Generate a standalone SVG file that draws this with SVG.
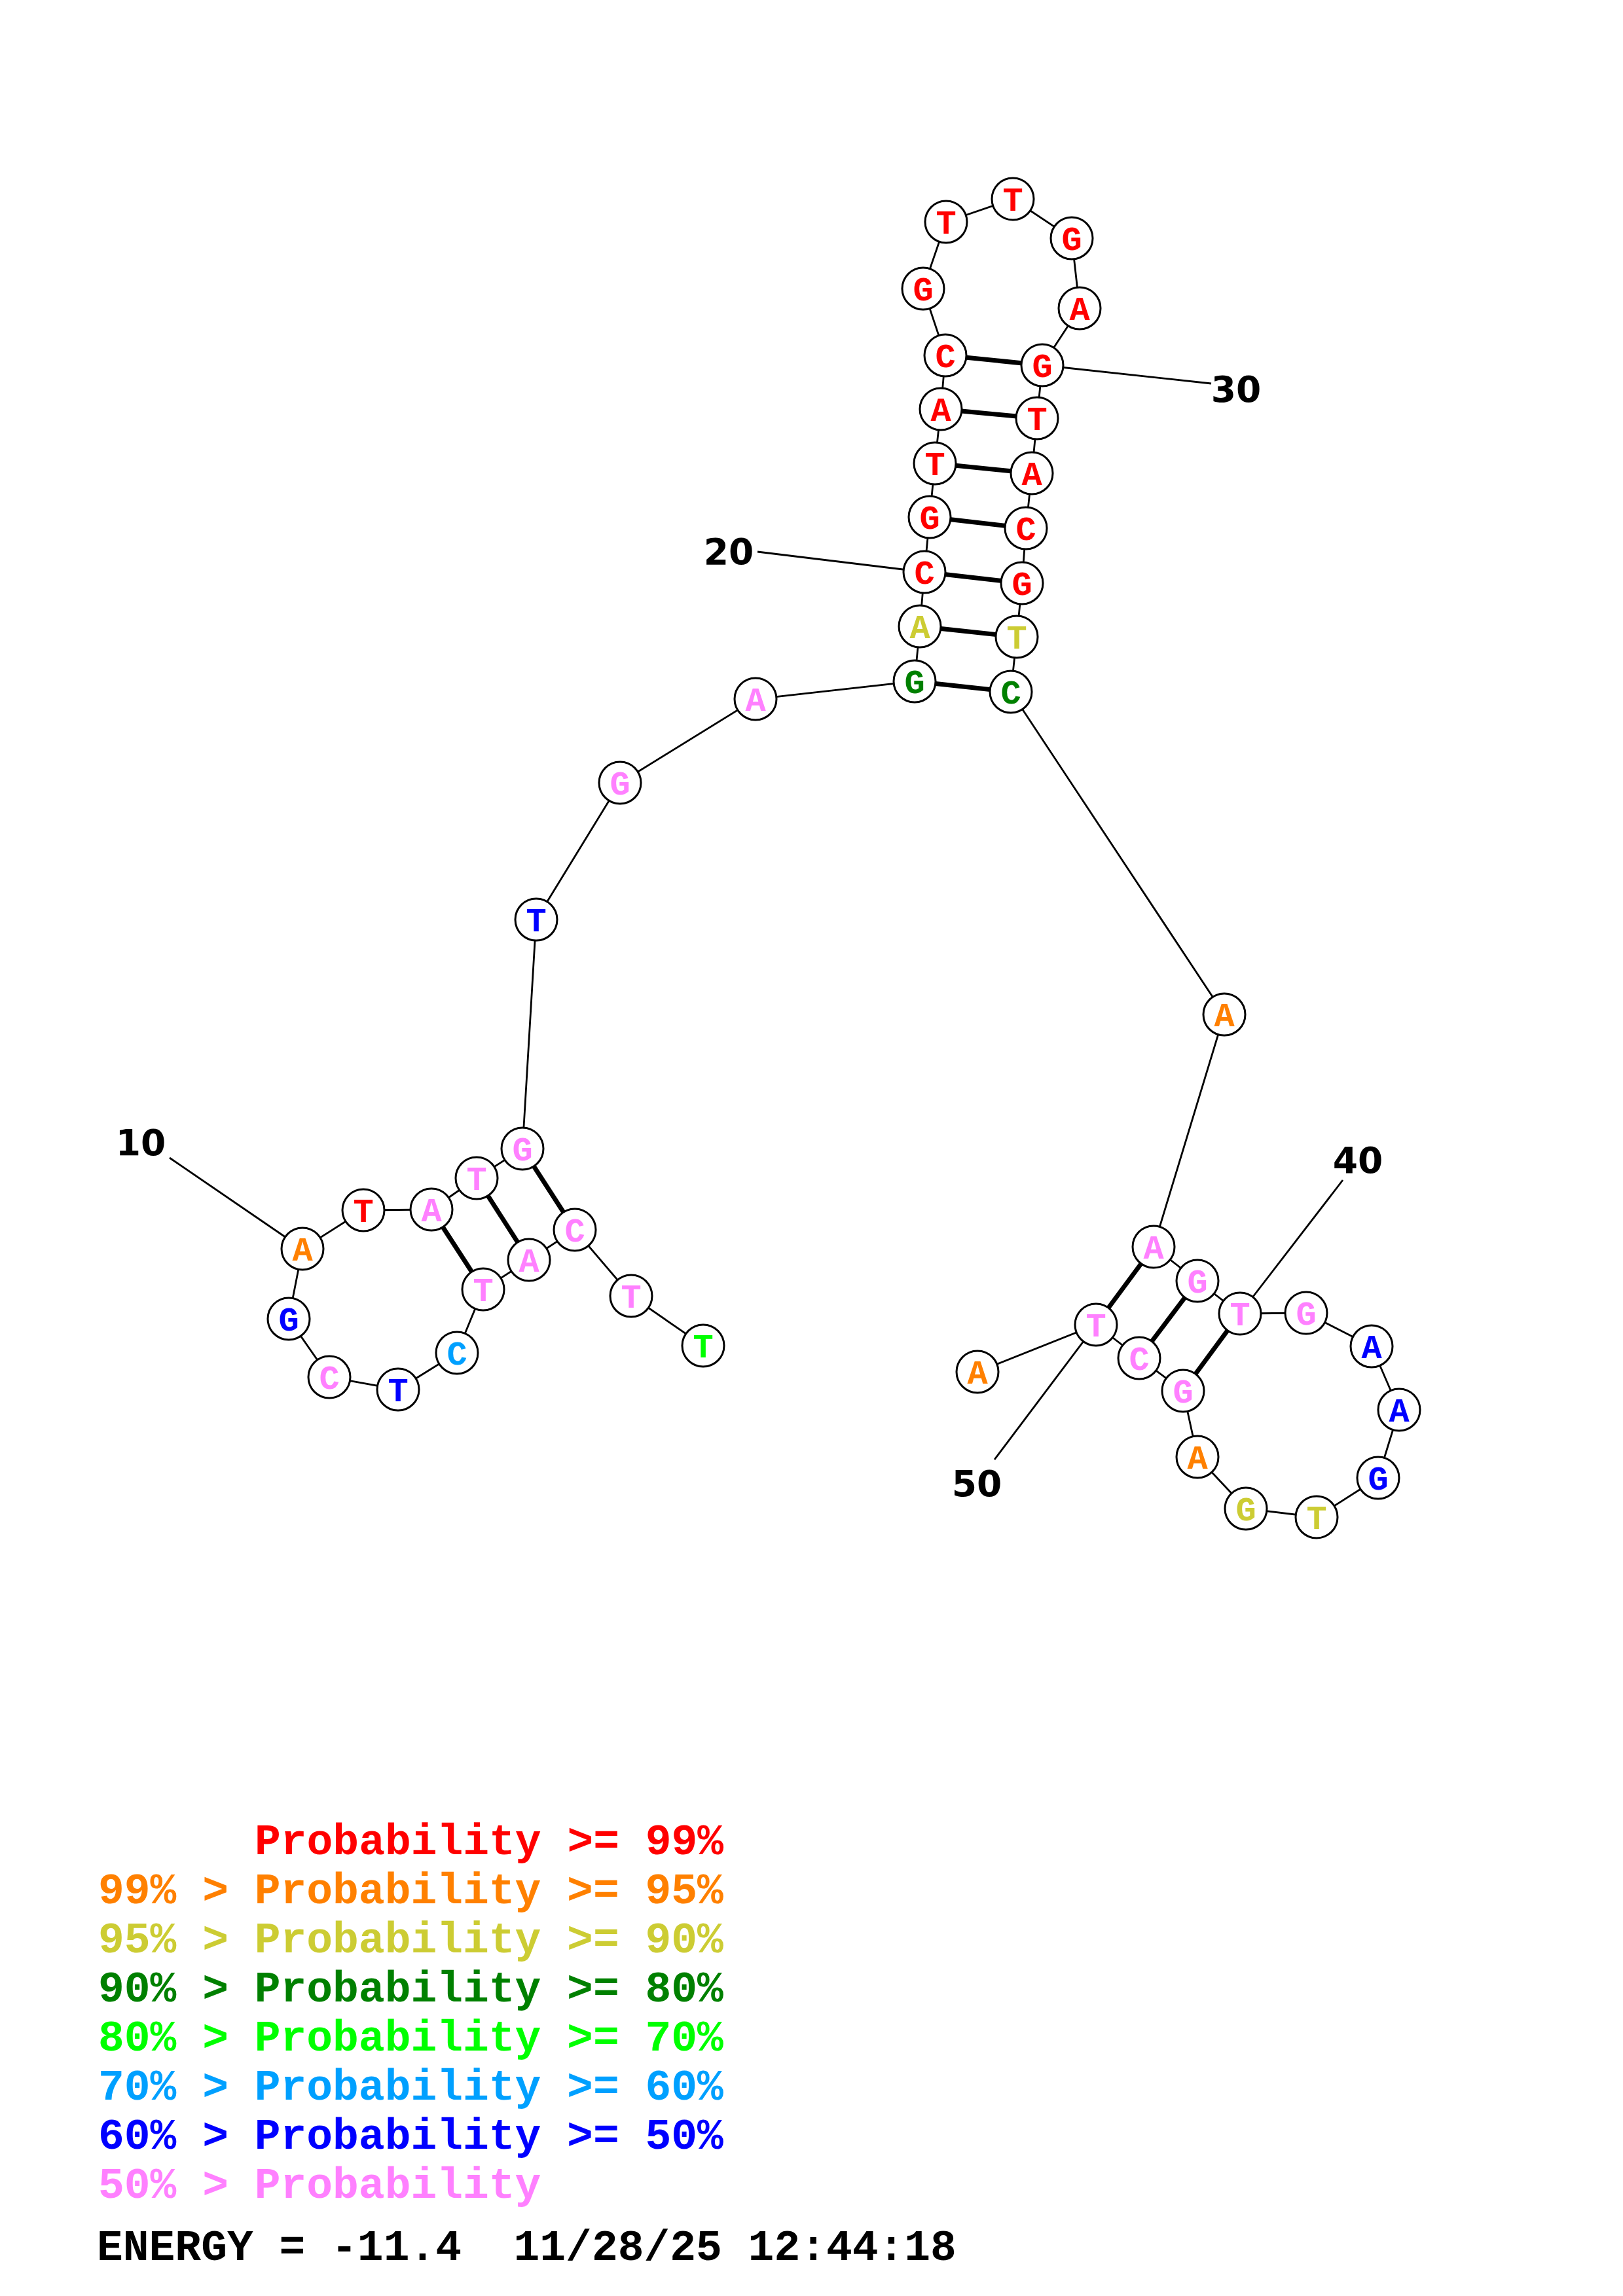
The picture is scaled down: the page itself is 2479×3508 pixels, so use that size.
<svg xmlns="http://www.w3.org/2000/svg" width="2479" height="3508" viewBox="0 0 2479 3508">
<style>
.bb{stroke:#000;stroke-width:2.8;fill:none}
.bp{stroke:#000;stroke-width:7;fill:none}
.lb{stroke:#000;stroke-width:2.8;fill:none}
circle{fill:#fff;stroke:#000;stroke-width:3}
.n text{font-family:"Liberation Mono",monospace;font-weight:bold;font-size:52px;text-anchor:middle}
.num{font-family:"DejaVu Sans",sans-serif;font-weight:bold;font-size:55px;text-anchor:middle;fill:#000}
.lg{font-family:"Liberation Mono",monospace;font-weight:bold;font-size:66.3px}
.r{fill:#FF0000}.o{fill:#FF8000}.y{fill:#CCCC33}.dg{fill:#008000}.g{fill:#00FF00}.c{fill:#00A0FF}.b{fill:#0000FF}.p{fill:#FF80FF}.k{fill:#000}
</style>
<g id="connectors">
<polyline class="bb" points="1074,2056 964,1980 878,1879 808,1925 738,1970 698,2067 608,2123 503,2104 441,2015 462,1908 555,1849 659,1848 728,1800 798,1755 819,1405 947,1196 1154,1068 1397,1041 1405,957 1412,874 1420,790 1428,708 1437,625 1444,543 1410,441 1445,339 1547,304 1637,364 1649,471 1592,558 1584,639 1576,723 1567,807 1561,891 1553,973 1544,1057 1870,1550 1762,1905 1829,1957 1894,2007 1995,2006 2095,2057 2137,2154 2105,2258 2011,2318 1903,2305 1829,2226 1807,2125 1740,2075 1674,2024 1493,2096"/>
<line class="bp" x1="878" y1="1879" x2="798" y2="1755"/>
<line class="bp" x1="808" y1="1925" x2="728" y2="1800"/>
<line class="bp" x1="738" y1="1970" x2="659" y2="1848"/>
<line class="bp" x1="1397" y1="1041" x2="1544" y2="1057"/>
<line class="bp" x1="1405" y1="957" x2="1553" y2="973"/>
<line class="bp" x1="1412" y1="874" x2="1561" y2="891"/>
<line class="bp" x1="1420" y1="790" x2="1567" y2="807"/>
<line class="bp" x1="1428" y1="708" x2="1576" y2="723"/>
<line class="bp" x1="1437" y1="625" x2="1584" y2="639"/>
<line class="bp" x1="1444" y1="543" x2="1592" y2="558"/>
<line class="bp" x1="1762" y1="1905" x2="1674" y2="2024"/>
<line class="bp" x1="1829" y1="1957" x2="1740" y2="2075"/>
<line class="bp" x1="1894" y1="2007" x2="1807" y2="2125"/>
<line class="lb" x1="259" y1="1769" x2="462" y2="1908"/>
<line class="lb" x1="1157" y1="843" x2="1412" y2="874"/>
<line class="lb" x1="1592" y1="558" x2="1850" y2="586"/>
<line class="lb" x1="2051" y1="1803" x2="1894" y2="2007"/>
<line class="lb" x1="1519" y1="2230" x2="1674" y2="2024"/>
</g>
<g class="n">
<g id="n1"><circle cx="1074" cy="2056" r="32"/><text x="1074" y="2074" class="g">T</text></g>
<g id="n2"><circle cx="964" cy="1980" r="32"/><text x="964" y="1998" class="p">T</text></g>
<g id="n3"><circle cx="878" cy="1879" r="32"/><text x="878" y="1897" class="p">C</text></g>
<g id="n4"><circle cx="808" cy="1925" r="32"/><text x="808" y="1943" class="p">A</text></g>
<g id="n5"><circle cx="738" cy="1970" r="32"/><text x="738" y="1988" class="p">T</text></g>
<g id="n6"><circle cx="698" cy="2067" r="32"/><text x="698" y="2085" class="c">C</text></g>
<g id="n7"><circle cx="608" cy="2123" r="32"/><text x="608" y="2141" class="b">T</text></g>
<g id="n8"><circle cx="503" cy="2104" r="32"/><text x="503" y="2122" class="p">C</text></g>
<g id="n9"><circle cx="441" cy="2015" r="32"/><text x="441" y="2033" class="b">G</text></g>
<g id="n10"><circle cx="462" cy="1908" r="32"/><text x="462" y="1926" class="o">A</text></g>
<g id="n11"><circle cx="555" cy="1849" r="32"/><text x="555" y="1867" class="r">T</text></g>
<g id="n12"><circle cx="659" cy="1848" r="32"/><text x="659" y="1866" class="p">A</text></g>
<g id="n13"><circle cx="728" cy="1800" r="32"/><text x="728" y="1818" class="p">T</text></g>
<g id="n14"><circle cx="798" cy="1755" r="32"/><text x="798" y="1773" class="p">G</text></g>
<g id="n15"><circle cx="819" cy="1405" r="32"/><text x="819" y="1423" class="b">T</text></g>
<g id="n16"><circle cx="947" cy="1196" r="32"/><text x="947" y="1214" class="p">G</text></g>
<g id="n17"><circle cx="1154" cy="1068" r="32"/><text x="1154" y="1086" class="p">A</text></g>
<g id="n18"><circle cx="1397" cy="1041" r="32"/><text x="1397" y="1059" class="dg">G</text></g>
<g id="n19"><circle cx="1405" cy="957" r="32"/><text x="1405" y="975" class="y">A</text></g>
<g id="n20"><circle cx="1412" cy="874" r="32"/><text x="1412" y="892" class="r">C</text></g>
<g id="n21"><circle cx="1420" cy="790" r="32"/><text x="1420" y="808" class="r">G</text></g>
<g id="n22"><circle cx="1428" cy="708" r="32"/><text x="1428" y="726" class="r">T</text></g>
<g id="n23"><circle cx="1437" cy="625" r="32"/><text x="1437" y="643" class="r">A</text></g>
<g id="n24"><circle cx="1444" cy="543" r="32"/><text x="1444" y="561" class="r">C</text></g>
<g id="n25"><circle cx="1410" cy="441" r="32"/><text x="1410" y="459" class="r">G</text></g>
<g id="n26"><circle cx="1445" cy="339" r="32"/><text x="1445" y="357" class="r">T</text></g>
<g id="n27"><circle cx="1547" cy="304" r="32"/><text x="1547" y="322" class="r">T</text></g>
<g id="n28"><circle cx="1637" cy="364" r="32"/><text x="1637" y="382" class="r">G</text></g>
<g id="n29"><circle cx="1649" cy="471" r="32"/><text x="1649" y="489" class="r">A</text></g>
<g id="n30"><circle cx="1592" cy="558" r="32"/><text x="1592" y="576" class="r">G</text></g>
<g id="n31"><circle cx="1584" cy="639" r="32"/><text x="1584" y="657" class="r">T</text></g>
<g id="n32"><circle cx="1576" cy="723" r="32"/><text x="1576" y="741" class="r">A</text></g>
<g id="n33"><circle cx="1567" cy="807" r="32"/><text x="1567" y="825" class="r">C</text></g>
<g id="n34"><circle cx="1561" cy="891" r="32"/><text x="1561" y="909" class="r">G</text></g>
<g id="n35"><circle cx="1553" cy="973" r="32"/><text x="1553" y="991" class="y">T</text></g>
<g id="n36"><circle cx="1544" cy="1057" r="32"/><text x="1544" y="1075" class="dg">C</text></g>
<g id="n37"><circle cx="1870" cy="1550" r="32"/><text x="1870" y="1568" class="o">A</text></g>
<g id="n38"><circle cx="1762" cy="1905" r="32"/><text x="1762" y="1923" class="p">A</text></g>
<g id="n39"><circle cx="1829" cy="1957" r="32"/><text x="1829" y="1975" class="p">G</text></g>
<g id="n40"><circle cx="1894" cy="2007" r="32"/><text x="1894" y="2025" class="p">T</text></g>
<g id="n41"><circle cx="1995" cy="2006" r="32"/><text x="1995" y="2024" class="p">G</text></g>
<g id="n42"><circle cx="2095" cy="2057" r="32"/><text x="2095" y="2075" class="b">A</text></g>
<g id="n43"><circle cx="2137" cy="2154" r="32"/><text x="2137" y="2172" class="b">A</text></g>
<g id="n44"><circle cx="2105" cy="2258" r="32"/><text x="2105" y="2276" class="b">G</text></g>
<g id="n45"><circle cx="2011" cy="2318" r="32"/><text x="2011" y="2336" class="y">T</text></g>
<g id="n46"><circle cx="1903" cy="2305" r="32"/><text x="1903" y="2323" class="y">G</text></g>
<g id="n47"><circle cx="1829" cy="2226" r="32"/><text x="1829" y="2244" class="o">A</text></g>
<g id="n48"><circle cx="1807" cy="2125" r="32"/><text x="1807" y="2143" class="p">G</text></g>
<g id="n49"><circle cx="1740" cy="2075" r="32"/><text x="1740" y="2093" class="p">C</text></g>
<g id="n50"><circle cx="1674" cy="2024" r="32"/><text x="1674" y="2042" class="p">T</text></g>
<g id="n51"><circle cx="1493" cy="2096" r="32"/><text x="1493" y="2114" class="o">A</text></g>
</g>
<g id="labels">
<text class="num" x="215" y="1765">10</text>
<text class="num" x="1113" y="862">20</text>
<text class="num" x="1888" y="614">30</text>
<text class="num" x="2074" y="1792">40</text>
<text class="num" x="1492" y="2286">50</text>
</g>
<g id="legend">
<text class="lg r" x="389" y="2833">Probability &gt;= 99%</text>
<text class="lg o" x="150" y="2908" xml:space="preserve">99% &gt; Probability &gt;= 95%</text>
<text class="lg y" x="150" y="2983" xml:space="preserve">95% &gt; Probability &gt;= 90%</text>
<text class="lg dg" x="150" y="3058" xml:space="preserve">90% &gt; Probability &gt;= 80%</text>
<text class="lg g" x="150" y="3133" xml:space="preserve">80% &gt; Probability &gt;= 70%</text>
<text class="lg c" x="150" y="3208" xml:space="preserve">70% &gt; Probability &gt;= 60%</text>
<text class="lg b" x="150" y="3283" xml:space="preserve">60% &gt; Probability &gt;= 50%</text>
<text class="lg p" x="150" y="3358" xml:space="preserve">50% &gt; Probability</text>
<text class="lg k" x="148" y="3453" xml:space="preserve">ENERGY = -11.4  11/28/25 12:44:18</text>
</g>
</svg>
